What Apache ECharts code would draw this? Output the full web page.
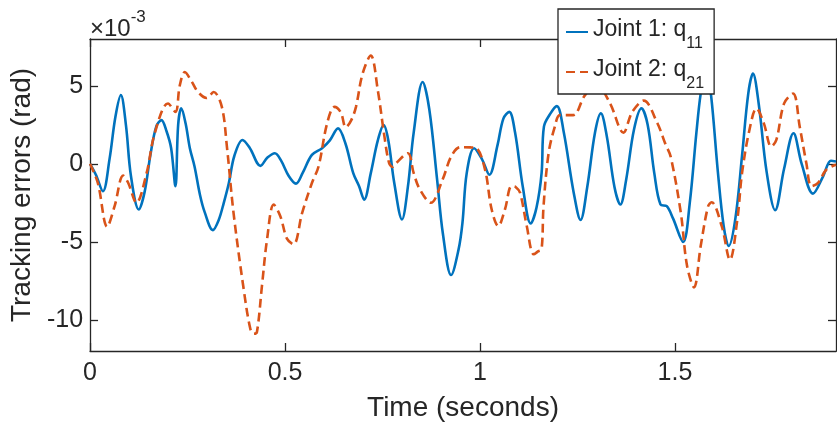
<!DOCTYPE html>
<html><head><meta charset="utf-8">
<script src="https://cdn.jsdelivr.net/npm/echarts@6/dist/echarts.min.js"></script>
<style>html,body{margin:0;padding:0;background:#fff}#c{width:837px;height:430px}</style>
</head><body><div id="c"></div>
<script>
// Tracking errors, in units of 1e-3 rad
const timeQ11 = [0,0.015,0.033,0.05,0.065,0.079,0.092,0.105,0.125,0.14,0.155,0.17,0.183,0.196,0.208,0.219,0.226,0.234,0.245,0.256,0.268,0.282,0.294,0.315,0.33,0.343,0.356,0.37,0.391,0.41,0.437,0.455,0.474,0.49,0.51,0.528,0.545,0.569,0.595,0.615,0.636,0.655,0.675,0.69,0.703,0.72,0.738,0.753,0.765,0.78,0.8,0.815,0.83,0.853,0.87,0.89,0.905,0.926,0.945,0.955,0.966,0.985,1.005,1.024,1.045,1.06,1.075,1.09,1.11,1.13,1.145,1.158,1.164,1.18,1.197,1.215,1.24,1.258,1.275,1.295,1.31,1.325,1.345,1.36,1.375,1.395,1.414,1.43,1.447,1.463,1.479,1.495,1.521,1.538,1.555,1.566,1.58,1.593,1.61,1.625,1.638,1.655,1.672,1.688,1.7,1.715,1.735,1.757,1.78,1.804,1.825,1.854,1.88,1.9,1.913];
const errQ11 = [0,-0.7,-1.76,0.3,3.0,4.4,2.5,-0.8,-2.93,-1.8,0.6,2.4,2.8,2.1,1.0,-1.44,2.5,3.55,2.6,1.0,-0.17,-2.0,-3.1,-4.25,-3.6,-2.5,-1.23,0.5,1.53,1.0,-0.13,0.4,0.68,0.2,-0.8,-1.27,-0.6,0.57,1.0,1.5,2.27,1.3,-0.6,-1.44,-2.3,-0.6,1.5,2.48,1.5,-1.2,-3.57,-1.5,2.0,5.24,3.5,-1.0,-4.5,-7.13,-5.5,-3.8,-0.6,1.0,0.3,-0.7,1.2,2.9,3.33,2.0,-1.5,-3.82,-2.8,-0.6,2.38,3.2,3.7,2.0,-1.8,-3.6,-1.5,2.0,3.23,1.8,-1.5,-2.61,-1.0,2.2,3.55,2.5,-0.6,-2.61,-2.72,-3.5,-5.01,-2.5,2.0,4.5,6.3,4.3,-0.5,-4.0,-5.27,-3.5,0.5,4.5,5.78,3.8,-0.5,-2.97,-0.3,1.96,0.0,-1.91,-0.8,0.2,0.15];
const timeQ21 = [0,0.02,0.044,0.063,0.085,0.098,0.119,0.145,0.166,0.2,0.219,0.23,0.243,0.26,0.277,0.299,0.317,0.338,0.351,0.368,0.394,0.411,0.42,0.428,0.441,0.454,0.471,0.488,0.505,0.522,0.544,0.569,0.586,0.608,0.627,0.643,0.656,0.67,0.682,0.699,0.72,0.738,0.755,0.767,0.776,0.785,0.815,0.83,0.845,0.874,0.904,0.926,0.949,0.975,0.991,1.013,1.03,1.047,1.064,1.081,1.092,1.103,1.12,1.138,1.15,1.158,1.163,1.176,1.192,1.205,1.239,1.269,1.3,1.333,1.368,1.39,1.42,1.455,1.475,1.489,1.515,1.531,1.549,1.566,1.585,1.594,1.62,1.641,1.66,1.672,1.691,1.709,1.728,1.747,1.76,1.78,1.803,1.82,1.837,1.85,1.867,1.888,1.913];
const errQ21 = [0,-1.23,-4.03,-2.72,-0.76,-1.23,-2.5,-0.6,1.96,3.87,3.33,5.0,5.88,5.3,4.6,4.22,4.6,3.65,1.1,-3.14,-8.03,-10.57,-10.9,-10.78,-7.8,-4.84,-2.61,-3.36,-4.8,-5.16,-3.14,-1.23,-0.17,2.59,3.65,3.3,2.34,2.8,3.65,5.78,6.94,4.71,1.74,0.04,-0.2,0.04,0.68,-0.6,-1.6,-2.5,-1.02,0.46,1.06,1.05,1.0,-0.38,-2.93,-3.99,-2.93,-1.44,-1.5,-1.87,-3.99,-5.8,-5.6,-5.48,-2.72,0.68,2.38,3.12,3.12,4.39,5.0,3.9,2.0,3.3,4.05,2.6,1.3,0.46,-3.14,-6.54,-7.92,-5.27,-2.72,-2.46,-4.0,-6.15,-3.57,-0.6,2.17,3.55,2.59,1.1,1.53,3.87,4.5,2.38,0.04,-1.44,-1.23,-0.38,-0.06];
const seriesNames = ['Joint 1: q11', 'Joint 2: q21'];
const legendMain = ['Joint 1: q', 'Joint 2: q'];
const legendSub = ['11', '21'];
const xTicks = [0, 0.5, 1, 1.5];
const yTicks = [-10, -5, 0, 5];
const xRange = [0, 1.913];
const yRange = [-12, 8];
const xTitle = 'Time (seconds)';
const yTitle = 'Tracking errors (rad)';

const FONT = '"Liberation Sans", Arial, Helvetica, sans-serif';
const INK = '#262626';
const chart = echarts.init(document.getElementById('c'), null, {renderer: 'canvas'});

function axisCommon() {
  return {
    axisLine: {show: true, onZero: false, lineStyle: {color: INK, width: 1.3}},
    splitLine: {show: false}
  };
}
function ticks(vals) {
  return {show: true, inside: true, length: 8, customValues: vals, lineStyle: {color: INK, width: 1.3}};
}
const q11 = timeQ11.map((t, i) => [t, errQ11[i]]);
const q21 = timeQ21.map((t, i) => [t, errQ21[i]]);

chart.setOption({
  animation: false,
  backgroundColor: '#fff',
  grid: {left: 90, top: 39, width: 746, height: 312, containLabel: false},
  xAxis: [
    Object.assign(axisCommon(), {
      type: 'value', position: 'bottom', min: xRange[0], max: xRange[1],
      axisTick: ticks(xTicks),
      axisLabel: {customValues: xTicks, fontSize: 25, color: INK, fontFamily: FONT, margin: 10},
      name: xTitle, nameLocation: 'middle', nameGap: 43,
      nameTextStyle: {fontSize: 28, color: INK, fontFamily: FONT}
    }),
    Object.assign(axisCommon(), {
      type: 'value', position: 'top', min: xRange[0], max: xRange[1],
      axisTick: ticks(xTicks),
      axisLabel: {show: false}
    })
  ],
  yAxis: [
    Object.assign(axisCommon(), {
      type: 'value', position: 'left', min: yRange[0], max: yRange[1],
      axisTick: ticks(yTicks),
      axisLabel: {customValues: yTicks, fontSize: 25, color: INK, fontFamily: FONT, margin: 7},
      name: yTitle, nameLocation: 'middle', nameGap: 54,
      nameTextStyle: {fontSize: 28, color: INK, fontFamily: FONT}
    }),
    Object.assign(axisCommon(), {
      type: 'value', position: 'right', min: yRange[0], max: yRange[1],
      axisTick: ticks(yTicks),
      axisLabel: {show: false}
    })
  ],
  legend: {
    left: 558, top: 9, orient: 'vertical',
    padding: [9, 10, 2, 7], itemGap: 6, itemWidth: 22, itemHeight: 14,
    backgroundColor: '#fff', borderColor: INK, borderWidth: 1.3, z: 10,
    itemStyle: {opacity: 0, borderWidth: 0},
    data: seriesNames,
    formatter: function (name) {
      const i = seriesNames.indexOf(name);
      return '{t|' + legendMain[i] + '}{s|' + legendSub[i] + '}';
    },
    textStyle: {
      color: INK, fontFamily: FONT,
      rich: {
        t: {fontSize: 23, fontFamily: FONT, color: INK, lineHeight: 28, verticalAlign: 'top'},
        s: {fontSize: 16, fontFamily: FONT, color: INK, lineHeight: 16, verticalAlign: 'top', padding: [18, 0, 0, 0]}
      }
    }
  },
  graphic: [{
    type: 'text', left: 90, top: 9, z: 5,
    style: {
      text: '{a|×10}{b|-3}', fill: INK,
      rich: {
        a: {fontSize: 24, fontFamily: FONT, fill: INK, lineHeight: 28, verticalAlign: 'top', padding: [8, 0, 0, 0]},
        b: {fontSize: 17, fontFamily: FONT, fill: INK, lineHeight: 17, verticalAlign: 'top'}
      }
    }
  }],
  series: [
    {
      name: seriesNames[0], type: 'line', data: q11, xAxisIndex: 0, yAxisIndex: 0,
      showSymbol: false, symbol: 'none', smooth: 0.35,
      lineStyle: {color: '#0072BD', width: 2.6}, itemStyle: {color: '#0072BD'}
    },
    {
      name: seriesNames[1], type: 'line', data: q21, xAxisIndex: 0, yAxisIndex: 0,
      showSymbol: false, symbol: 'none', smooth: 0.35,
      lineStyle: {color: '#D95319', width: 2.6, type: [9, 5]}, itemStyle: {color: '#D95319'}
    }
  ]
});
</script>
</body></html>
